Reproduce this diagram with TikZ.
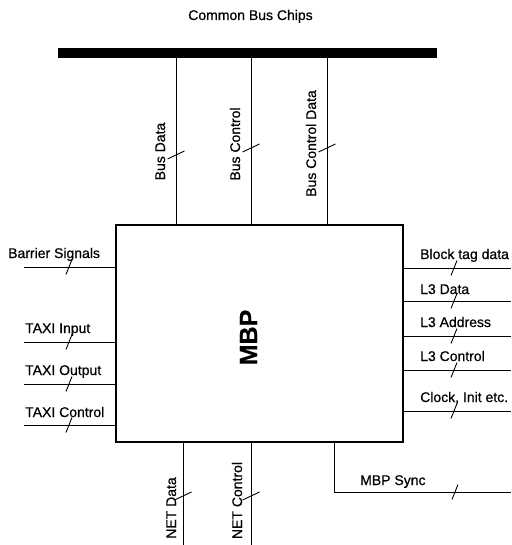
\documentclass[tikz,border=0pt]{standalone}
\usepackage{fontspec}
\setmainfont[FakeBold=0.6]{Liberation Sans}
\usepackage{tikz}
\usetikzlibrary{positioning,calc}

\begin{document}
\begin{tikzpicture}[
    x=1pt,y=-1pt,
    font=\fontsize{14}{16}\selectfont,
    chip/.style={draw,line width=1.5pt,minimum width=287pt,minimum height=217pt,inner sep=0pt},
    bar/.style={fill=black,minimum width=379pt,minimum height=10pt,inner sep=0pt},
    wire/.style={line width=0.9pt},
    tic/.style={line width=0.9pt},
    lbl/.style={anchor=base west,inner sep=0pt},
    vlbl/.style={rotate=90,anchor=base,inner sep=0pt}
  ]
    \useasboundingbox (0,0) rectangle (511,545);

    \node[anchor=base,inner sep=0pt] (title) at (250.5,20) {Common Bus Chips};
    \node[bar] (bus) at (247.5,53) {};
    \node[chip] (mbp) at (259.5,333.5) {};
    \node[rotate=90,font=\fontsize{25}{28}\selectfont\bfseries] (name) at (248.5,337.5) {MBP};

    % bus side
    \coordinate (bd) at (176,0);
    \coordinate (bc) at (251,0);
    \coordinate (bcd) at (327,0);
    \draw[wire] (bd |- bus.south) -- (bd |- mbp.north);
    \draw[wire] (bc |- bus.south) -- (bc |- mbp.north);
    \draw[wire] (bcd |- bus.south) -- (bcd |- mbp.north);
    \node[vlbl] (busdata) at (165,151.5) {Bus Data};
    \node[vlbl] (busctl) at (240,144) {Bus Control};
    \node[vlbl] (busctldata) at (316,143.5) {Bus Control Data};
    \draw[tic] (176,155) ++(-8.5,4) -- ++(17,-8);
    \draw[tic] (251,148) ++(-8.5,4) -- ++(17,-8);
    \draw[tic] (327,148) ++(-8.5,4) -- ++(17,-8);

    % left side
    \coordinate (barr) at (24,267);
    \coordinate (txin) at (24,342);
    \coordinate (txout) at (24,384);
    \coordinate (txctl) at (24,425);
    \draw[wire] (barr) -- (barr -| mbp.west);
    \draw[wire] (txin) -- (txin -| mbp.west);
    \draw[wire] (txout) -- (txout -| mbp.west);
    \draw[wire] (txctl) -- (txctl -| mbp.west);
    \node[lbl] (barrlbl) at (8,258) {Barrier Signals};
    \node[lbl] (txinlbl) at (25,333) {TAXI Input};
    \node[lbl] (txoutlbl) at (25,375) {TAXI Output};
    \node[lbl] (txctllbl) at (25,417) {TAXI Control};
    \draw[tic] (69,267) ++(-3,7.5) -- ++(6,-15);
    \draw[tic] (69,342) ++(-3,7.5) -- ++(6,-15);
    \draw[tic] (69,384) ++(-3,7.5) -- ++(6,-15);
    \draw[tic] (69,425) ++(-3,7.5) -- ++(6,-15);

    % right side
    \coordinate (btd) at (511,268);
    \coordinate (ldata) at (511,301);
    \coordinate (laddr) at (511,336);
    \coordinate (lctl) at (511,370);
    \coordinate (clk) at (511,411);
    \draw[wire] (mbp.east |- btd) -- (btd);
    \draw[wire] (mbp.east |- ldata) -- (ldata);
    \draw[wire] (mbp.east |- laddr) -- (laddr);
    \draw[wire] (mbp.east |- lctl) -- (lctl);
    \draw[wire] (mbp.east |- clk) -- (clk);
    \node[lbl] (btdlbl) at (420,259) {Block tag data};
    \node[lbl] (ldatalbl) at (420,294) {L3 Data};
    \node[lbl] (laddrlbl) at (420,327) {L3 Address};
    \node[lbl] (lctllbl) at (420,361) {L3 Control};
    \node[lbl] (clklbl) at (420,402) {Clock, Init etc.};
    \draw[tic] (454,268) ++(-3,7.5) -- ++(6,-15);
    \draw[tic] (454,301) ++(-3,7.5) -- ++(6,-15);
    \draw[tic] (454,336) ++(-3,7.5) -- ++(6,-15);
    \draw[tic] (454,370) ++(-3,7.5) -- ++(6,-15);
    \draw[tic] (454,411) ++(-3,7.5) -- ++(6,-15);

    % net side
    \coordinate (netd) at (183,545);
    \coordinate (netc) at (251,545);
    \coordinate (synck) at (334,492);
    \coordinate (sync) at (511,492);
    \draw[wire] (netd |- mbp.south) -- (netd);
    \draw[wire] (netc |- mbp.south) -- (netc);
    \draw[wire] (synck |- mbp.south) -- (synck) -- (sync);
    \node[vlbl] (netdlbl) at (176,508) {NET Data};
    \node[vlbl] (netclbl) at (242,500.5) {NET Control};
    \node[lbl] (synclbl) at (360,485) {MBP Sync};
    \draw[tic] (183,496) ++(-8.5,4) -- ++(17,-8);
    \draw[tic] (251,496) ++(-8.5,4) -- ++(17,-8);
    \draw[tic] (455,492) ++(-3,7.5) -- ++(6,-15);
  \end{tikzpicture}
\end{document}
